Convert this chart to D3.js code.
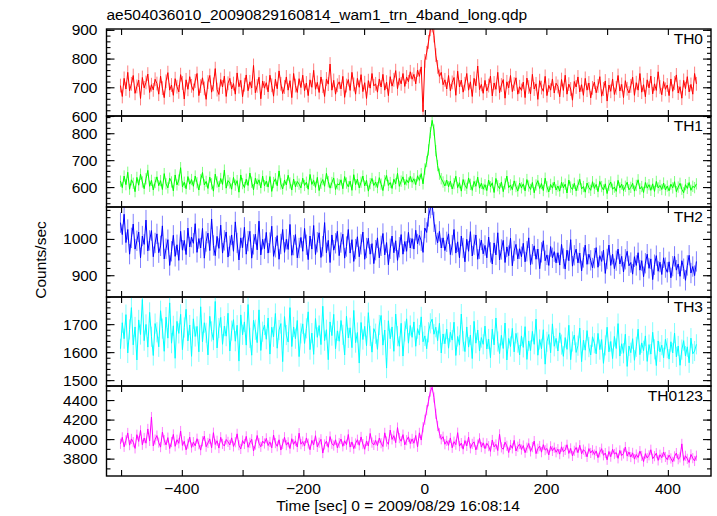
<!DOCTYPE html>
<html><head><meta charset="utf-8">
<script src="https://cdn.jsdelivr.net/npm/d3@7"></script>
<style>
body{margin:0;background:#fff}
svg{display:block}
text{font-family:"Liberation Sans",Arial,Helvetica,sans-serif;fill:#000}
</style>
</head><body>
<svg id="chart" width="717" height="516"></svg>
<script>
const chartTitle = "ae504036010_20090829160814_wam1_trn_4band_long.qdp";
const xLabel = "Time [sec] 0 = 2009/08/29 16:08:14";
const yLabel = "Counts/sec";
const tStart = -501, binSize = 3;
const bandNames = ["TH0","TH1","TH2","TH3","TH0123"];
const bandColors = ["#ff0000","#00ff00","#0000ff","#00ffff","#ff00ff"];

const th0 = [
706,668,731,694,752,688,712,741,679,703,725,661,734,698,717,746,682,709,691,728,
713,676,739,697,664,721,751,690,708,672,730,702,684,744,715,659,726,693,737,705,
689,722,748,671,704,733,696,658,718,741,683,710,765,692,675,727,701,739,668,714,
731,694,713,676,750,702,724,667,709,743,688,719,698,776,681,705,735,660,722,697,
716,684,742,707,669,728,695,757,712,678,701,736,690,723,664,748,706,682,730,699,
742,688,715,671,726,700,759,693,717,682,736,704,668,729,711,781,690,724,676,707,
719,694,738,665,706,727,689,752,710,676,731,700,744,685,716,661,723,697,748,705,
712,683,729,701,745,690,718,671,737,704,726,758,695,731,712,748,703,736,719,754,
728,745,712,760,738,771,615,792,820,858,902,915,880,812,771,738,752,709,726,694,
741,688,717,734,672,756,701,725,683,712,748,690,719,668,731,705,774,692,710,679,
724,687,706,739,670,715,693,752,681,708,727,662,719,698,741,685,711,733,676,702,
689,718,664,732,701,677,745,694,712,658,723,699,686,738,671,707,690,729,680,714,
703,667,727,689,742,676,711,694,655,720,701,736,684,709,672,731,690,715,663,698,
718,681,705,737,669,694,722,652,708,686,729,675,698,741,687,710,664,723,695,680,
705,735,672,716,690,748,683,709,667,726,698,739,677,712,689,754,701,674,720,693,
708,671,729,686,715,743,680,702,662,724,695,737,684,710,676,748,712];

const th1 = [
622,598,641,609,655,592,627,614,583,636,607,648,619,594,631,662,603,625,589,617,
638,605,624,591,650,612,597,633,619,586,645,608,626,672,601,618,594,639,611,628,
603,641,616,589,627,654,608,621,595,637,612,585,648,619,601,632,610,663,596,624,
615,592,636,607,624,581,645,613,598,629,606,652,618,590,633,611,627,597,641,605,
622,600,639,584,617,631,605,660,612,593,626,608,644,615,589,630,601,621,611,597,
633,606,618,592,647,610,625,599,636,587,614,628,603,651,620,596,617,634,591,612,
608,627,594,639,615,601,622,588,646,609,630,597,618,641,604,625,585,613,632,606,
619,598,635,611,587,624,643,606,617,595,629,612,651,603,622,638,609,627,615,640,
618,631,609,642,625,650,612,667,695,738,802,848,812,735,680,648,631,619,604,626,
601,622,593,613,640,598,616,585,628,607,595,634,610,588,621,603,637,596,614,592,
609,587,626,601,616,580,632,605,594,619,583,612,641,598,608,590,623,602,585,615,
597,612,586,628,604,591,617,579,608,624,595,613,587,633,601,582,610,596,619,589,
604,585,618,597,611,578,626,600,591,614,586,607,629,593,602,581,615,598,588,620,
595,610,583,621,602,589,612,576,606,619,592,600,584,625,597,611,587,603,618,590,
599,614,585,606,627,593,602,580,617,596,609,588,612,584,621,597,606,591,615,589,
604,586,611,597,620,583,600,614,592,579,609,595,617,588,603,598,612];

const th2 = [
1045,1012,1068,990,1026,958,1003,1041,972,995,1019,948,1008,985,1052,967,996,1023,951,989,
1014,962,981,1036,945,973,998,927,966,1010,952,984,941,1021,969,996,957,1030,978,1005,
988,1042,963,1001,975,1029,947,993,1016,968,1055,982,954,1007,974,1038,961,996,1019,950,
981,1011,966,1047,989,942,1003,976,1032,958,994,1021,947,985,1013,970,1049,956,999,973,
1018,961,990,1035,952,977,1009,944,986,1026,963,999,971,1040,955,983,1012,948,975,1004,
966,1029,984,943,1008,972,1037,957,991,1017,949,980,1045,962,996,935,1011,969,988,1021,
954,990,1013,947,979,1026,961,998,938,972,1006,951,985,1019,944,975,1002,958,987,932,
969,1003,948,981,1015,956,990,929,973,1008,962,995,941,977,1012,958,993,966,1018,975,
1001,972,1024,986,1010,995,963,1030,1018,1062,1085,1094,1047,1012,989,1021,975,1003,968,992,
1014,957,983,1026,961,992,948,1008,975,937,999,966,1020,953,984,1011,944,973,997,959,
982,948,1005,963,931,989,956,1017,942,971,996,935,978,954,1002,926,967,985,945,973,
951,988,937,966,1003,929,958,981,944,972,918,963,995,940,956,927,979,948,965,934,
962,928,985,946,917,969,940,998,925,955,972,934,961,912,949,983,930,958,941,920,
947,976,922,954,938,969,905,945,983,927,958,918,940,972,931,952,909,944,966,926,
935,903,951,927,962,914,940,896,933,958,919,945,888,929,954,911,936,902,948,921,
908,937,893,925,952,914,931,897,940,918,886,927,955,906,924,899,938];

const th3 = [
1612,1705,1648,1734,1597,1681,1759,1626,1690,1572,1715,1663,1788,1641,1699,1618,1742,1655,1588,1702,
1671,1619,1748,1684,1603,1725,1650,1776,1632,1694,1578,1710,1667,1735,1609,1688,1753,1640,1697,1585,
1719,1656,1692,1601,1762,1637,1705,1669,1590,1728,1674,1643,1781,1615,1686,1724,1628,1693,1657,1739,
1604,1677,1716,1639,1696,1568,1733,1662,1708,1625,1770,1651,1589,1714,1680,1634,1751,1606,1673,1697,
1646,1722,1593,1689,1655,1738,1614,1679,1702,1566,1727,1661,1636,1759,1620,1690,1648,1713,1584,1667,
1701,1631,1685,1744,1609,1668,1592,1720,1653,1695,1627,1764,1641,1680,1573,1708,1659,1735,1612,1676,
1639,1713,1662,1590,1728,1651,1687,1616,1749,1634,1670,1561,1706,1645,1692,1623,1741,1658,1600,1684,
1666,1610,1697,1731,1625,1679,1543,1712,1648,1690,1603,1736,1657,1621,1703,1586,1674,1719,1632,1695,
1653,1708,1621,1684,1661,1726,1637,1658,1612,1671,1703,1718,1664,1689,1641,1703,1597,1665,1630,1682,
1614,1671,1643,1707,1588,1656,1625,1736,1639,1602,1690,1618,1661,1577,1710,1632,1679,1604,1652,1628,
1693,1611,1647,1580,1682,1626,1722,1638,1595,1660,1613,1704,1572,1649,1620,1685,1601,1667,1634,1590,
1658,1617,1691,1574,1640,1606,1674,1628,1718,1589,1645,1612,1680,1557,1637,1663,1598,1701,1621,1649,
1604,1669,1627,1585,1652,1610,1696,1573,1638,1661,1599,1623,1686,1566,1643,1607,1677,1618,1590,1655,
1632,1594,1667,1609,1645,1560,1624,1689,1601,1638,1577,1656,1613,1702,1586,1630,1596,1664,1549,1622,
1598,1648,1571,1619,1682,1591,1633,1605,1658,1567,1627,1593,1671,1610,1552,1640,1601,1625,1580,1646,
1614,1575,1637,1597,1668,1583,1622,1553,1609,1641,1586,1619,1562,1650,1594,1604,1628];

const th0123 = [
3952,4018,3921,3987,4063,3938,4002,3969,3905,4045,3976,4089,3942,4011,3958,4104,3981,4226,3930,3995,
4036,3964,3918,4072,3989,3941,4015,3903,3970,4048,3926,3994,3957,4083,3935,3978,3890,3952,4021,3914,
3969,3931,4004,3947,3887,3978,4031,3922,3960,4002,3911,4066,3945,3983,3908,4019,3951,3929,3996,3972,
3940,4013,3925,3968,4054,3937,3899,3985,3950,4028,3916,3962,3999,3878,3944,4037,3958,3921,3980,3955,
4008,3934,3971,3910,4042,3959,3926,3993,3888,3951,4019,3938,3967,3903,4004,3946,3982,3919,4061,3948,
3975,3929,4012,3954,3891,3987,3941,4035,3920,3963,3998,3857,3945,3979,3916,4026,3952,3934,3993,3911,
3960,4001,3926,3983,3943,4047,3918,3971,3902,3955,3994,3937,4022,3949,3896,3981,3929,4058,3964,3940,
3987,3932,4011,3958,3924,4064,3975,3946,4092,3997,4035,3963,4118,4010,3978,4046,3941,3989,4023,3954,
4002,3958,4037,3921,4064,3990,4121,4198,4296,4388,4487,4531,4426,4259,4134,4060,3998,4025,3947,3982,
3936,4012,3911,3974,3943,4066,3928,3959,3897,3985,3930,4021,3906,3951,3972,3889,3944,4008,3918,3962,
3902,3957,3928,3874,3991,3920,3946,3883,4049,3915,3896,3968,3931,3862,3940,3905,3987,3878,3922,3950,
3893,3934,3861,3912,3955,3874,3918,3980,3851,3901,3929,3866,3943,3887,3904,3838,3926,3879,3912,3865,
3897,3846,3921,3870,3889,3942,3853,3905,3828,3880,3914,3861,3937,3849,3892,3871,3818,3903,3858,3886,
3842,3879,3810,3865,3902,3834,3857,3788,3873,3820,3896,3847,3862,3803,3884,3831,3853,3919,3826,3868,
3816,3859,3795,3842,3811,3877,3828,3770,3851,3806,3834,3891,3799,3825,3856,3782,3840,3809,3868,3817,
3789,3836,3802,3768,3823,3857,3794,3812,3951,3781,3829,3798,3760,3843,3805,3776,3830];

const bandSeries = [th0, th1, th2, th3, th0123];
const bandErrors = [24, 21, 28, 36, 52];
const yDomains = [[600,903],[526,864],[840,1088],[1479,1797],[3622,4544]];
const yTickLabels = [[600,700,800,900],[600,700,800],[900,1000],[1500,1600,1700],[3800,4000,4200,4400]];
const yMinorStep = [20,20,20,20,100];
const xDomain = [-524, 471];
const xMajorTicks = [-500,-400,-300,-200,-100,0,100,200,300,400];
const xTickLabels = [-400,-200,0,200,400];

const svg = d3.select("#chart");
const left = 106.5, right = 711;
const panelEdges = [29,116,207,297,386,476];
const FS = 15.5;
const x = d3.scaleLinear().domain(xDomain).range([left, right]);

svg.append("text").attr("x", left).attr("y", 20).attr("font-size", FS).text(chartTitle);

bandSeries.forEach((vals, p) => {
  const top = panelEdges[p], bot = panelEdges[p+1];
  const y = d3.scaleLinear().domain(yDomains[p]).range([bot, top]);
  const g = svg.append("g");
  const clipId = "clip" + p;
  svg.append("clipPath").attr("id", clipId).append("rect")
    .attr("x", left).attr("y", top).attr("width", right-left).attr("height", bot-top);
  const dg = g.append("g").attr("clip-path", `url(#${clipId})`);
  const pts = vals.map((v,i) => ({t: tStart + i*binSize, v}));
  const err = bandErrors[p];
  dg.selectAll("line.err").data(pts).join("line").attr("class","err")
    .attr("x1", d => x(d.t)).attr("x2", d => x(d.t))
    .attr("y1", d => y(d.v - err)).attr("y2", d => y(d.v + err))
    .attr("stroke", bandColors[p]).attr("stroke-opacity", 0.5).attr("stroke-width", 1);
  dg.append("path").datum(pts)
    .attr("d", d3.line().x(d => x(d.t)).y(d => y(d.v)))
    .attr("fill","none").attr("stroke", bandColors[p]).attr("stroke-width", 1);

  const [d0, d1] = yDomains[p];
  const minors = d3.range(Math.ceil(d0/yMinorStep[p])*yMinorStep[p], d1+0.001, yMinorStep[p]);
  const yAxL = d3.axisRight(y).tickValues(minors).tickSize(4).tickFormat("");
  const yAxR = d3.axisLeft(y).tickValues(minors).tickSize(4).tickFormat("");
  const yMajL = d3.axisRight(y).tickValues(yTickLabels[p]).tickSize(8).tickFormat("");
  const yMajR = d3.axisLeft(y).tickValues(yTickLabels[p]).tickSize(8).tickFormat("");
  [yAxL, yMajL].forEach(a => g.append("g").attr("transform",`translate(${left},0)`).call(a));
  [yAxR, yMajR].forEach(a => g.append("g").attr("transform",`translate(${right},0)`).call(a));
  g.selectAll("text.yl").data(yTickLabels[p]).join("text").attr("class","yl")
    .attr("x", left - 9).attr("y", d => y(d) + 5.5).attr("text-anchor","end")
    .attr("font-size", FS).text(d => d);
  const xTop = d3.axisBottom(x).tickValues(xMajorTicks).tickSize(6).tickFormat("");
  const xBot = d3.axisTop(x).tickValues(xMajorTicks).tickSize(6).tickFormat("");
  g.append("g").attr("transform",`translate(0,${top})`).call(xTop);
  g.append("g").attr("transform",`translate(0,${bot})`).call(xBot);
  g.selectAll(".domain").remove();
  g.selectAll(".tick line").attr("stroke","#000").attr("stroke-width",1.1);
  g.append("rect").attr("x", left).attr("y", top).attr("width", right-left).attr("height", bot-top)
    .attr("fill","none").attr("stroke","#000").attr("stroke-width",1.4);
  g.append("text").attr("x", right - 8).attr("y", top + 14.5).attr("text-anchor","end")
    .attr("font-size", FS).text(bandNames[p]);
});

svg.selectAll("text.xl").data(xTickLabels).join("text").attr("class","xl")
  .attr("x", d => x(d)).attr("y", 494).attr("text-anchor","middle").attr("font-size",FS)
  .text(d => d < 0 ? "\u2212" + Math.abs(d) : String(d));
svg.append("text").attr("x", 398).attr("y", 511).attr("text-anchor","middle").attr("font-size",FS).text(xLabel);
svg.append("text").attr("transform","translate(46,260) rotate(-90)").attr("text-anchor","middle")
  .attr("font-size",FS).text(yLabel);
</script>
</body></html>
